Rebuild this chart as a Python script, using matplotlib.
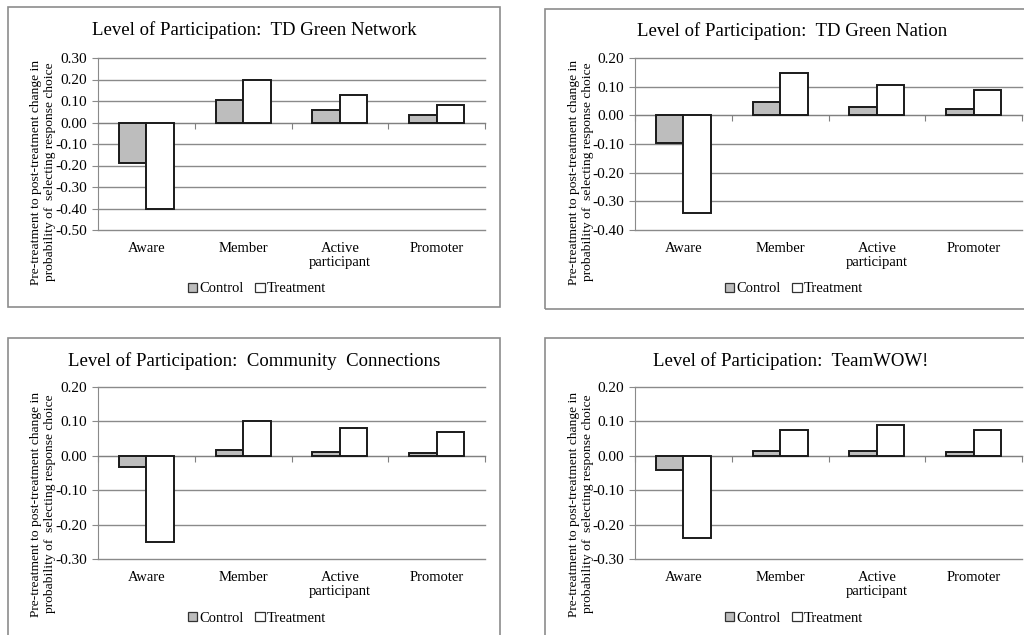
import matplotlib.pyplot as plt
from matplotlib.patches import Rectangle, Patch
import matplotlib.transforms as mtransforms

plt.rcParams['font.family'] = ['Liberation Serif', 'DejaVu Serif']

categories = ["Aware", "Member", "Active\nparticipant", "Promoter"]
series_names = ["Control", "Treatment"]

titles = [
    "Level of Participation:  TD Green Network",
    "Level of Participation:  TD Green Nation",
    "Level of Participation:  Community  Connections",
    "Level of Participation:  TeamWOW!",
]

green_network_control = [-0.190, 0.105, 0.058, 0.033]
green_network_treatment = [-0.402, 0.198, 0.127, 0.082]
green_nation_control = [-0.098, 0.048, 0.030, 0.021]
green_nation_treatment = [-0.341, 0.148, 0.107, 0.089]
community_control = [-0.034, 0.017, 0.010, 0.007]
community_treatment = [-0.252, 0.102, 0.080, 0.070]
teamwow_control = [-0.040, 0.015, 0.015, 0.010]
teamwow_treatment = [-0.239, 0.076, 0.089, 0.076]

controls = [green_network_control, green_nation_control, community_control, teamwow_control]
treatments = [green_network_treatment, green_nation_treatment, community_treatment, teamwow_treatment]

y_ranges = [(-0.5, 0.3), (-0.4, 0.2), (-0.3, 0.2), (-0.3, 0.2)]

W, H = 1024, 635
fig = plt.figure(figsize=(W / 100, H / 100), dpi=100)


def fx(x):
    return x / W


def fy(y):
    return 1 - y / H


# pixel layout of each panel
panels = [
    dict(frame=(8, 7, 500, 307), plot=(98, 58, 485, 230), title=(254, 30), lab=(43, 172), leg=(257, 289)),
    dict(frame=(545, 9, 1040, 309), plot=(635, 58, 1022, 230), title=(792, 31), lab=(581, 172), leg=(794, 289)),
    dict(frame=(8, 338, 500, 650), plot=(98, 387, 485, 559), title=(254, 361), lab=(43, 504), leg=(257, 618)),
    dict(frame=(545, 338, 1040, 650), plot=(635, 387, 1022, 559), title=(791, 361), lab=(581, 504), leg=(794, 618)),
]

grid_col = '#8a8a8a'
ctrl_col = '#bdbdbd'
bw = 0.285

for i, p in enumerate(panels):
    x0, y0, x1, y1 = p['frame']
    fig.patches.append(Rectangle((fx(x0), fy(y1)), fx(x1 - x0), (y1 - y0) / H,
                                 transform=fig.transFigure, facecolor='none',
                                 edgecolor='#8c8c8c', linewidth=1.2, zorder=-1))
    px0, py0, px1, py1 = p['plot']
    ax = fig.add_axes([fx(px0), fy(py1), fx(px1 - px0), (py1 - py0) / H])
    ax.set_facecolor('none')
    lo, hi = y_ranges[i]
    ax.set_ylim(lo, hi)
    ax.set_xlim(-0.5, 3.5)
    ticks = [round(lo + 0.1 * k, 2) for k in range(int(round((hi - lo) / 0.1)) + 1)]
    ax.set_yticks(ticks)
    ax.set_yticklabels(["%.2f" % t for t in ticks], fontsize=11)
    ax.yaxis.grid(True, color=grid_col, linewidth=1.0)
    for gl in ax.get_ygridlines():
        gl.set_clip_on(False)
    ax.set_axisbelow(True)
    for s in ['top', 'right']:
        ax.spines[s].set_visible(False)
    ax.spines['left'].set_color(grid_col)
    ax.spines['bottom'].set_position(('data', 0))
    ax.spines['bottom'].set_color('#808080')
    ax.tick_params(axis='y', length=4, color=grid_col, pad=4)
    ax.set_xticks([-0.5, 0.5, 1.5, 2.5, 3.5])
    ax.set_xticklabels([])
    ax.tick_params(axis='x', length=4, color='#808080', direction='out')

    xs = list(range(len(categories)))
    ax.bar([x - bw / 2 for x in xs], controls[i], width=bw, color=ctrl_col,
           edgecolor='#1a1a1a', linewidth=1.4, zorder=3)
    ax.bar([x + bw / 2 for x in xs], treatments[i], width=bw, color='white',
           edgecolor='#1a1a1a', linewidth=1.4, zorder=3)

    trans = mtransforms.blended_transform_factory(ax.transData, ax.transAxes)
    for x, c in zip(xs, categories):
        ax.text(x, -0.07, c, transform=trans, ha='center', va='top',
                fontsize=10.5, linespacing=1.05)

    fig.text(fx(p['title'][0]), fy(p['title'][1]), titles[i],
             ha='center', va='center', fontsize=13.5)

    fig.text(fx(p['lab'][0]), fy(p['lab'][1]),
             "Pre-treatment to post-treatment change in\nprobability of  selecting response choice",
             rotation=90, ha='center', va='center', fontsize=9.7, linespacing=1.3)

    handles = [Patch(facecolor=ctrl_col, edgecolor='#333333', linewidth=0.9),
               Patch(facecolor='white', edgecolor='#333333', linewidth=0.9)]
    fig.legend(handles, series_names, loc='center',
               bbox_to_anchor=(fx(p['leg'][0]), fy(p['leg'][1])),
               ncol=2, frameon=False, fontsize=10.5, handlelength=0.65, handleheight=0.65,
               handletextpad=0.15, columnspacing=0.8, borderpad=0)

fig.savefig("out.png", dpi=100)
